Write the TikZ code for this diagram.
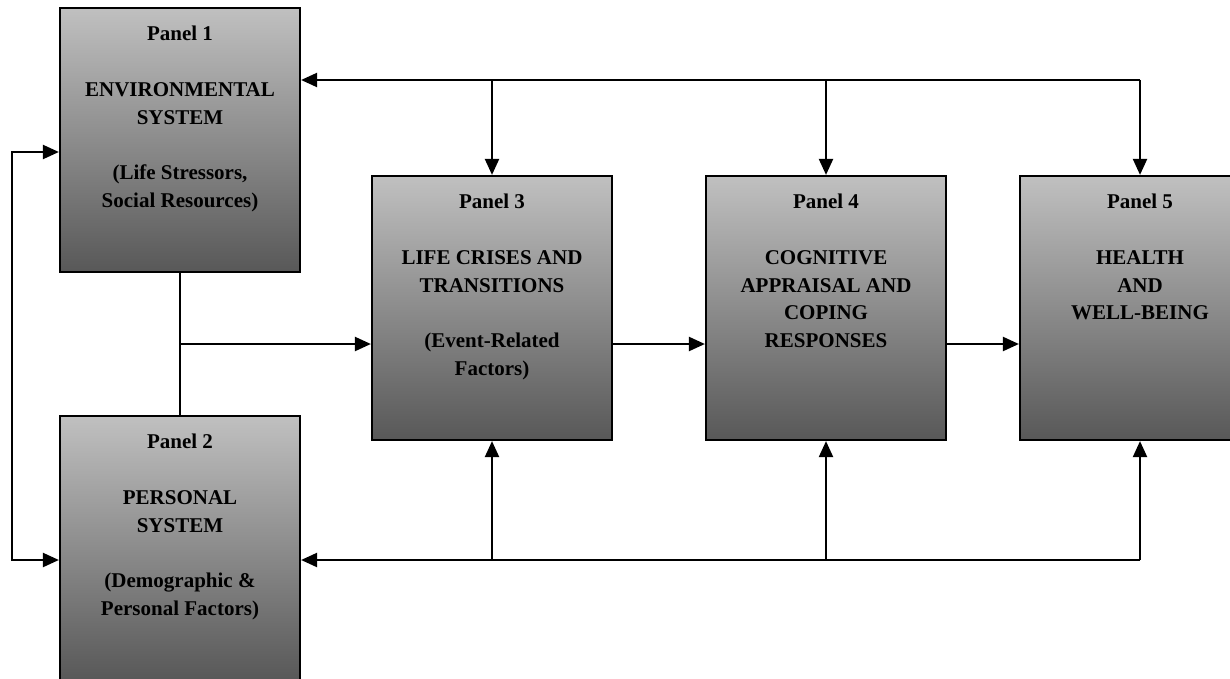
\documentclass[tikz,border=0pt]{standalone}
\usepackage{fontspec}
\setmainfont{Liberation Serif}
\usetikzlibrary{arrows.meta}
\definecolor{boxtop}{RGB}{192,192,192}
\definecolor{boxbot}{RGB}{88,88,88}
\begin{document}
\begin{tikzpicture}[x=1pt,y=-1pt,
  panelbox/.style={draw=black, line width=2.2pt, minimum width=240pt, minimum height=264pt, inner sep=0pt, top color=boxtop, bottom color=boxbot},
  paneltext/.style={align=center, font=\fontsize{21}{27.8}\selectfont\bfseries, inner sep=0pt, anchor=north},
  conn/.style={line width=2.2pt},
  arr/.style={conn, -{Triangle[length=16pt,width=14pt]}},
  dblarr/.style={conn, {Triangle[length=16pt,width=14pt]}-{Triangle[length=16pt,width=14pt]}},
]
\useasboundingbox (0,0) rectangle (1230,679);
\clip (0,0) rectangle (1230,679);

% panels
\node[panelbox] (p1) at (180,140) {};
\node[panelbox] (p2) at (180,548) {};
\node[panelbox] (p3) at (492,308) {};
\node[panelbox] (p4) at (826,308) {};
\node[panelbox] (p5) at (1140,308) {};

% texts
\node[paneltext] (t1) at ([yshift=-19pt]p1.north) {Panel 1\\[27.8pt]ENVIRONMENTAL\\SYSTEM\\[27.8pt](Life Stressors,\\Social Resources)};
\node[paneltext] (t2) at ([yshift=-19pt]p2.north) {Panel 2\\[27.8pt]PERSONAL\\SYSTEM\\[27.8pt](Demographic \&\\Personal Factors)};
\node[paneltext] (t3) at ([yshift=-19pt]p3.north) {Panel 3\\[27.8pt]LIFE CRISES AND\\TRANSITIONS\\[27.8pt](Event-Related\\Factors)};
\node[paneltext] (t4) at ([yshift=-19pt]p4.north) {Panel 4\\[27.8pt]COGNITIVE\\APPRAISAL AND\\COPING\\RESPONSES};
\node[paneltext] (t5) at ([yshift=-19pt]p5.north) {Panel 5\\[27.8pt]HEALTH\\AND\\WELL-BEING};

% helper coordinates
\coordinate (tc) at (1140,80);
\coordinate (bc) at (1140,560);
\coordinate (lt) at (12,152);
\coordinate (lb) at (12,560);
\coordinate (mid) at (180,344);

% top feedback line
\draw[arr] (p5.north |- tc) -- (p1.east |- tc);
\draw[arr] (p3.north |- tc) -- (p3.north);
\draw[arr] (p4.north |- tc) -- (p4.north);
\draw[arr] (p5.north |- tc) -- (p5.north);

% bottom feedback line
\draw[arr] (p5.south |- bc) -- (p2.east |- bc);
\draw[arr] (p3.south |- bc) -- (p3.south);
\draw[arr] (p4.south |- bc) -- (p4.south);
\draw[arr] (p5.south |- bc) -- (p5.south);

% left loop
\draw[dblarr] (p1.west |- lt) -- (lt) -- (lb) -- (p2.west |- lb);

% panel 1/2 joint into panel 3
\draw[conn] (p1.south) -- (p2.north);
\draw[arr] (mid) -- (p3.west |- mid);

% forward arrows
\draw[arr] (p3.east |- mid) -- (p4.west |- mid);
\draw[arr] (p4.east |- mid) -- (p5.west |- mid);
\end{tikzpicture}
\end{document}
